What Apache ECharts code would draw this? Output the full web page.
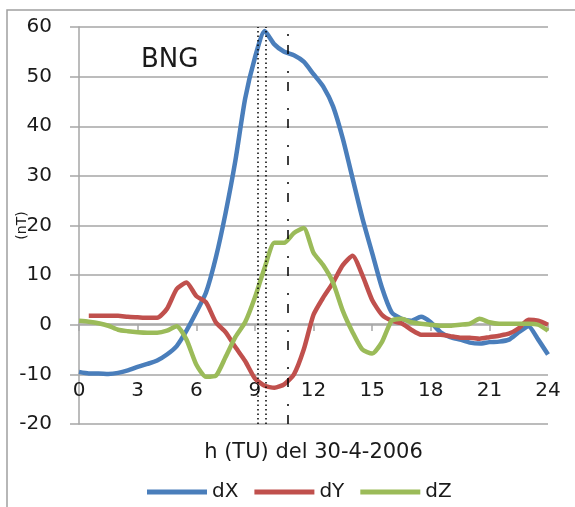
<!DOCTYPE html>
<html>
<head>
<meta charset="utf-8">
<script src="https://cdn.jsdelivr.net/npm/echarts@6/dist/echarts.min.js"></script>
<style>
  html, body { margin: 0; padding: 0; background: #fff; }
  #main { width: 575px; height: 507px; }
</style>
</head>
<body>
<div id="main"></div>
<script>
// ore (TU), passo di mezz'ora
const hours = [0, 0.5, 1, 1.5, 2, 2.5, 3, 3.5, 4, 4.5, 5, 5.5, 6, 6.5, 7, 7.5, 8, 8.5, 9, 9.5,
  10, 10.5, 11, 11.5, 12, 12.5, 13, 13.5, 14, 14.5, 15, 15.5, 16, 16.5, 17, 17.5, 18, 18.5, 19, 19.5,
  20, 20.5, 21, 21.5, 22, 22.5, 23, 23.5, 24];

const dX = [-9.5, -9.8, -9.8, -9.9, -9.7, -9.2, -8.5, -7.9, -7.2, -6.0, -4.3, -1.2, 2.5, 6.5, 13.5, 22.5, 33, 45.5, 53.8, 59.2,
  56.5, 55, 54.3, 53, 50.5, 48, 44, 37.5, 29.5, 21.5, 14.5, 7.5, 2.5, 1.2, 0.8, 1.6, 0.5, -1.5, -2.5, -3,
  -3.6, -3.8, -3.5, -3.4, -3, -1.5, -0.3, -3, -6];

const dY = [null, 1.8, 1.8, 1.8, 1.8, 1.6, 1.5, 1.4, 1.4, 3.2, 7.2, 8.5, 5.8, 4.5, 0.5, -1.5, -4.5, -7.3, -10.8, -12.3,
  -12.7, -12, -10, -5, 2, 5.5, 8.5, 12, 13.9, 10, 5, 2, 0.8, 0.3, -1, -2, -2, -2, -2.3, -2.6,
  -2.6, -2.8, -2.5, -2.2, -1.8, -0.7, 1, 0.8, 0];

const dZ = [0.8, 0.6, 0.3, -0.2, -1, -1.3, -1.5, -1.6, -1.6, -1.2, -0.3, -3, -8, -10.5, -10.3, -6.5, -2.5, 0.5, 5.5, 11.5,
  16.5, 16.5, 18.5, 19.5, 14.5, 12, 8.5, 2.8, -1.5, -5, -5.8, -3.5, 0.8, 1.2, 0.5, 0.2, 0, -0.2, -0.2, 0,
  0.2, 1.2, 0.5, 0.2, 0.2, 0.2, 0.2, 0, -1.2];

const seriesNames = ["dX", "dY", "dZ"];
const colors = ["#4a7ebb", "#c0504d", "#9bbb59"];

// linee verticali (ore)
const dottedHours = [9.13, 9.55];
const dashDotHour = 10.7;

const font = "DejaVu Sans";
const textColor = "#1a1a1a";
const gridColor = "#a6a6a6";

let myChart = echarts.init(document.getElementById("main"));

function pairs(values) {
  return hours.map((h, i) => [h, values[i]]);
}

let option = {
  animation: false,
  textStyle: { fontFamily: font },
  title: {
    text: "BNG",
    left: 136,
    top: 42,
    textStyle: { fontFamily: font, fontSize: 26, fontWeight: "normal", color: textColor },
  },
  legend: {
    data: seriesNames,
    left: 142,
    top: 477,
    icon: "rect",
    itemWidth: 60,
    itemHeight: 5,
    itemGap: 16,
    textStyle: { fontFamily: font, fontSize: 20, color: textColor, padding: [0, 0, 0, 0] },
  },
  graphic: [
    {
      type: "rect",
      shape: { x: 7, y: 10, width: 700, height: 700 },
      style: { fill: "none", stroke: "#a0a0a0", lineWidth: 1.5 },
      z: -1,
    },
  ],
  grid: {
    left: 79,
    right: 27,
    top: 27,
    bottom: 83,
    outerBoundsMode: "none",
  },
  xAxis: {
    type: "value",
    min: 0,
    max: 24,
    interval: 3,
    // asse sullo zero: 20 nT sopra il fondo (100 px)
    offset: -100,
    name: "h (TU) del 30-4-2006",
    nameLocation: "middle",
    nameGap: 118,
    nameMoveOverlap: false,
    nameTextStyle: { fontFamily: font, fontSize: 21, color: textColor },
    axisLine: { onZero: false, lineStyle: { color: gridColor, width: 1.5 } },
    axisTick: { show: true, length: 7, lineStyle: { color: gridColor, width: 1.5 } },
    axisLabel: { margin: 29, padding: [28, 0, 0, 0], fontFamily: font, fontSize: 20, color: textColor },
    splitLine: { show: false },
  },
  yAxis: {
    type: "value",
    min: -20,
    max: 60,
    interval: 10,
    name: "(nT)",
    nameLocation: "middle",
    nameGap: 50,
    nameMoveOverlap: false,
    nameTextStyle: { fontFamily: font, fontSize: 14, color: textColor },
    axisLine: { show: true, onZero: false, lineStyle: { color: gridColor, width: 1.5 } },
    axisTick: { show: true, length: 9, lineStyle: { color: gridColor, width: 1.5 } },
    axisLabel: { margin: 27, fontFamily: font, fontSize: 20, color: textColor },
    splitLine: { show: true, lineStyle: { color: gridColor, width: 1.5 } },
  },
  series: [
    {
      name: "dX",
      type: "line",
      data: pairs(dX),
      showSymbol: false,
      smooth: 0.2,
      lineStyle: { width: 4.5, color: colors[0] },
      itemStyle: { color: colors[0] },
    },
    {
      name: "dY",
      type: "line",
      data: pairs(dY),
      showSymbol: false,
      smooth: 0.2,
      lineStyle: { width: 4.5, color: colors[1] },
      itemStyle: { color: colors[1] },
    },
    {
      name: "dZ",
      type: "line",
      data: pairs(dZ),
      showSymbol: false,
      smooth: 0.2,
      lineStyle: { width: 4.5, color: colors[2] },
      itemStyle: { color: colors[2] },
    },
    {
      name: "markers",
      type: "line",
      data: [],
      z: 10,
      silent: true,
      markLine: {
        silent: true,
        symbol: "none",
        label: { show: false },
        data: [
          ...dottedHours.map((h) => ({ xAxis: h, lineStyle: { color: "#000", width: 1.5, type: [1.5, 3] } })),
          { xAxis: dashDotHour, lineStyle: { color: "#000", width: 1.5, type: [9, 9, 2, 17] } },
        ],
      },
    },
  ],
};
myChart.setOption(option);
</script>
</body>
</html>
